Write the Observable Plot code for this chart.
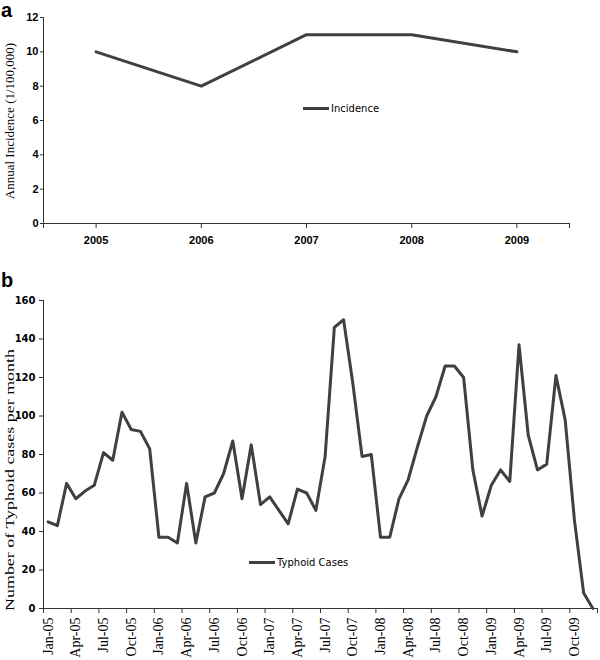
<!DOCTYPE html>
<html>
<head>
<meta charset="utf-8">
<script src="https://cdn.jsdelivr.net/npm/d3@7"></script>
<script src="https://cdn.jsdelivr.net/npm/@observablehq/plot@0.6"></script>
<style>
  html, body { margin: 0; padding: 0; background: #fff; }
  #wrap { position: relative; width: 600px; height: 660px; overflow: hidden; background: #fff; }
  .panel { position: absolute; left: 0; }
  .tag { position: absolute; font-family: "Liberation Sans", Arial, sans-serif; font-weight: bold; font-size: 20px; line-height: 1; color: #000; }
  .ytitle { position: absolute; white-space: nowrap; font-family: "Liberation Serif", "Times New Roman", serif; font-size: 13px; line-height: 1; color: #000; transform-origin: center; }
  .legend { position: absolute; display: flex; align-items: center; font-family: "DejaVu Sans", Verdana, sans-serif; font-size: 10px; color: #000; white-space: nowrap; }
  .legend .sw { display: inline-block; width: 26px; height: 3px; background: #404040; margin-right: 2px; }
</style>
</head>
<body>
<div id="wrap"></div>
<script>
// ---- Panel a data ----
const years = [2005, 2006, 2007, 2008, 2009];
const incidence = [10, 8, 11, 11, 10];
const yTicksA = [0, 2, 4, 6, 8, 10, 12];

// ---- Panel b data ----
const months = [
  "Jan-05","Feb-05","Mar-05","Apr-05","May-05","Jun-05","Jul-05","Aug-05","Sep-05","Oct-05","Nov-05","Dec-05",
  "Jan-06","Feb-06","Mar-06","Apr-06","May-06","Jun-06","Jul-06","Aug-06","Sep-06","Oct-06","Nov-06","Dec-06",
  "Jan-07","Feb-07","Mar-07","Apr-07","May-07","Jun-07","Jul-07","Aug-07","Sep-07","Oct-07","Nov-07","Dec-07",
  "Jan-08","Feb-08","Mar-08","Apr-08","May-08","Jun-08","Jul-08","Aug-08","Sep-08","Oct-08","Nov-08","Dec-08",
  "Jan-09","Feb-09","Mar-09","Apr-09","May-09","Jun-09","Jul-09","Aug-09","Sep-09","Oct-09","Nov-09","Dec-09"
];
const cases = [
  45, 43, 65, 57, 61, 64, 81, 77, 102, 93, 92, 83,
  37, 37, 34, 65, 34, 58, 60, 70, 87, 57, 85, 54,
  58, 51, 44, 62, 60, 51, 79, 146, 150, 117, 79, 80,
  37, 37, 57, 67, 84, 100, 110, 126, 126, 120, 72, 48,
  64, 72, 66, 137, 90, 72, 75, 121, 98, 46, 8, 0
];
const yTicksB = [0, 20, 40, 60, 80, 100, 120, 140, 160];

const lineColor = "#404040";
const axisColor = "#333333";

const wrap = document.getElementById("wrap");

// ---------- Panel a ----------
const dataA = years.map((y, i) => ({year: y, value: incidence[i]}));
const plotA = Plot.plot({
  width: 600,
  height: 255,
  marginTop: 17,
  marginBottom: 32,
  marginLeft: 43,
  marginRight: 31,
  style: {fontFamily: "Liberation Sans, Arial, sans-serif", fontSize: "11px", color: "#000", background: "transparent"},
  x: {domain: [2004.5, 2009.5]},
  y: {domain: [0, 12]},
  marks: [
    Plot.ruleY([0], {stroke: axisColor}),
    Plot.ruleX([2004.5], {stroke: axisColor}),
    Plot.axisY({ticks: yTicksA, tickSize: 3, tickPadding: 2, fontWeight: "bold", fontSize: 11, label: null, stroke: axisColor}),
    Plot.axisX({ticks: years, tickSize: 5, tickPadding: 8, tickFormat: d => String(d), fontWeight: "bold", fontSize: 11, label: null, stroke: axisColor}),
    Plot.axisX({ticks: [2004.5, 2009.5], tickSize: 5, tickFormat: () => "", label: null, stroke: axisColor}),
    Plot.line(dataA, {x: "year", y: "value", stroke: lineColor, strokeWidth: 3})
  ]
});
plotA.classList.add("panel");
plotA.style.top = "0px";
wrap.appendChild(plotA);

// ---------- Panel b ----------
const dataB = months.map((m, i) => ({idx: i, month: m, cases: cases[i]}));
const plotB = Plot.plot({
  width: 600,
  height: 375,
  marginTop: 15,
  marginBottom: 52,
  marginLeft: 43,
  marginRight: 3,
  style: {fontFamily: "DejaVu Sans, Verdana, sans-serif", fontSize: "10px", color: "#000", background: "transparent"},
  x: {domain: [-0.5, months.length - 0.5]},
  y: {domain: [0, 160]},
  marks: [
    Plot.ruleY([0], {stroke: axisColor}),
    Plot.ruleX([-0.5], {stroke: axisColor}),
    Plot.axisY({ticks: yTicksB, tickSize: 4, tickPadding: 4, fontWeight: "bold", fontSize: 10, label: null, stroke: axisColor}),
    Plot.axisX({ticks: d3.range(0, months.length, 3), tickFormat: i => months[i], tickRotate: -90, tickSize: 0, tickPadding: 9,
      fontFamily: "Liberation Serif, Times New Roman, serif", fontSize: 14, label: null}),
    Plot.axisX({ticks: d3.range(-0.5, months.length, 3), tickSize: 5, tickFormat: () => "", label: null, stroke: axisColor}),
    Plot.line(dataB, {x: "idx", y: "cases", stroke: lineColor, strokeWidth: 3})
  ]
});
plotB.classList.add("panel");
plotB.style.top = "285px";
wrap.appendChild(plotB);

// ---------- Panel tags ----------
function addDiv(cls, text, css) {
  const d = document.createElement("div");
  d.className = cls;
  d.textContent = text;
  Object.assign(d.style, css);
  wrap.appendChild(d);
  return d;
}
addDiv("tag", "a", {left: "1px", top: "0px"});
addDiv("tag", "b", {left: "1px", top: "270px"});

// ---------- Y-axis titles ----------
addDiv("ytitle", "Annual Incidence (1/100,000)", {left: "9px", top: "121px", transform: "translate(-50%,-50%) rotate(-90deg)"});
addDiv("ytitle", "Number of Typhoid cases per month", {left: "9px", top: "480px", transform: "translate(-50%,-50%) rotate(-90deg) scaleX(1.38)"});

// ---------- Legends ----------
function addLegend(text, left, cy) {
  const d = document.createElement("div");
  d.className = "legend";
  const sw = document.createElement("span");
  sw.className = "sw";
  const t = document.createElement("span");
  t.textContent = text;
  d.appendChild(sw);
  d.appendChild(t);
  d.style.left = left + "px";
  d.style.top = (cy - 7) + "px";
  d.style.height = "14px";
  wrap.appendChild(d);
}
addLegend("Incidence", 303, 108);
addLegend("Typhoid Cases", 249, 562);
</script>
</body>
</html>
